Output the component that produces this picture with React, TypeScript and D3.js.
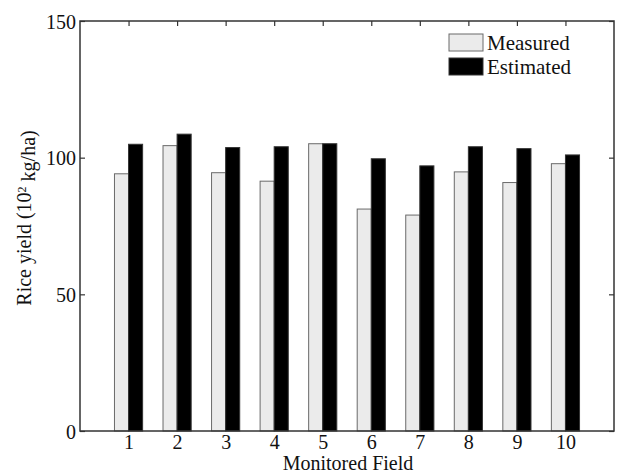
import * as d3 from 'd3';
import React, { useRef, useEffect } from 'react';

const fields = [1, 2, 3, 4, 5, 6, 7, 8, 9, 10];
const measured = [94.1, 104.4, 94.5, 91.4, 105.1, 81.2, 79.0, 94.8, 90.9, 97.8];
const estimated = [104.9, 108.6, 103.7, 104.0, 105.1, 99.6, 97.0, 104.0, 103.3, 101.0];
const yTicks = [0, 50, 100, 150];
const seriesNames = ['Measured', 'Estimated'];

const FONT = '"Liberation Serif", "DejaVu Serif", serif';

const App = () => {
    const svgRef = useRef<SVGSVGElement>(null);
    const width = 619;
    const height = 475;

    useEffect(() => {
        draw();
    }, []);

    const draw = () => {
        const svg = d3.select(svgRef.current);
        svg.selectAll('*').remove();

        const margin = { top: 21, right: 5, bottom: 44, left: 80 };
        const x0 = margin.left;
        const x1 = width - margin.right;
        const y0 = height - margin.bottom;
        const y1 = margin.top;

        const xScale = d3.scaleLinear().domain([0, 11]).range([x0, x1]);
        const yScale = d3.scaleLinear().domain([0, 150]).range([y0, y1]);
        const bw = 0.29; // bar width in x units

        const axisColor = '#333';

        // ticks point inward on all four sides
        const styleAxis = (g) => {
            g.attr('font-family', FONT).attr('font-size', 20);
            g.select('.domain').remove();
            g.selectAll('line').attr('stroke', axisColor).attr('stroke-width', 1.2);
            g.selectAll('text').attr('fill', '#111');
        };

        svg.append('g')
            .attr('transform', `translate(${x0},0)`)
            .call(d3.axisLeft(yScale).tickValues(yTicks).tickSize(-5).tickPadding(4).tickFormat(d3.format('d')))
            .call(styleAxis)
            .selectAll('text').attr('dy', '0.35em');

        svg.append('g')
            .attr('transform', `translate(${x1},0)`)
            .call(d3.axisRight(yScale).tickValues(yTicks).tickSize(-5).tickFormat(() => ''))
            .call(styleAxis);

        svg.append('g')
            .attr('transform', `translate(0,${y1})`)
            .call(d3.axisTop(xScale).tickValues(fields).tickSize(-5).tickFormat(() => ''))
            .call(styleAxis);

        svg.append('g')
            .attr('transform', `translate(0,${y0})`)
            .call(d3.axisBottom(xScale).tickValues(fields).tickSize(-5).tickPadding(3.5).tickFormat(d3.format('d')))
            .call(styleAxis);

        // bars
        svg.append('g')
            .selectAll('rect')
            .data(fields)
            .enter()
            .append('rect')
            .attr('x', (d) => xScale(d - bw))
            .attr('y', (d, i) => yScale(measured[i]))
            .attr('width', xScale(bw) - xScale(0))
            .attr('height', (d, i) => y0 - yScale(measured[i]))
            .attr('fill', '#ebebeb')
            .attr('stroke', '#6a6a6a')
            .attr('stroke-width', 1);

        svg.append('g')
            .selectAll('rect')
            .data(fields)
            .enter()
            .append('rect')
            .attr('x', (d) => xScale(d))
            .attr('y', (d, i) => yScale(estimated[i]))
            .attr('width', xScale(bw) - xScale(0))
            .attr('height', (d, i) => y0 - yScale(estimated[i]))
            .attr('fill', '#000')
            .attr('stroke', '#333')
            .attr('stroke-width', 1);

        // frame
        svg.append('rect')
            .attr('x', x0)
            .attr('y', y1)
            .attr('width', x1 - x0)
            .attr('height', y0 - y1)
            .attr('fill', 'none')
            .attr('stroke', axisColor)
            .attr('stroke-width', 1.5);

        // legend
        const legend = svg.append('g').attr('transform', 'translate(449,34)');
        seriesNames.forEach((name, i) => {
            legend.append('rect')
                .attr('x', 0)
                .attr('y', i * 24)
                .attr('width', 34)
                .attr('height', 17)
                .attr('fill', i === 0 ? '#ebebeb' : '#000')
                .attr('stroke', i === 0 ? '#6a6a6a' : '#333')
                .attr('stroke-width', 1);
            legend.append('text')
                .attr('x', 38)
                .attr('y', i * 24 + 16)
                .attr('font-family', FONT)
                .attr('font-size', 21)
                .attr('fill', '#111')
                .text(name);
        });

        // axis titles
        svg.append('text')
            .attr('x', 348)
            .attr('y', 470)
            .attr('text-anchor', 'middle')
            .attr('font-family', FONT)
            .attr('font-size', 20)
            .attr('fill', '#111')
            .text('Monitored Field');

        const yl = svg.append('text')
            .attr('transform', 'translate(31,218) rotate(-90)')
            .attr('text-anchor', 'middle')
            .attr('font-family', FONT)
            .attr('font-size', 20)
            .attr('fill', '#111');
        yl.append('tspan').text('Rice yield (10');
        yl.append('tspan').attr('dy', '-0.45em').attr('font-size', 12).text('2');
        yl.append('tspan').attr('dy', '0.45em').text(' kg/ha)');
    };

    return (
        <svg ref={svgRef} width={width} height={height}
            style={{ position: 'absolute', left: 0, top: 0, background: '#fff' }}>
        </svg>
    );
};

export default App;
